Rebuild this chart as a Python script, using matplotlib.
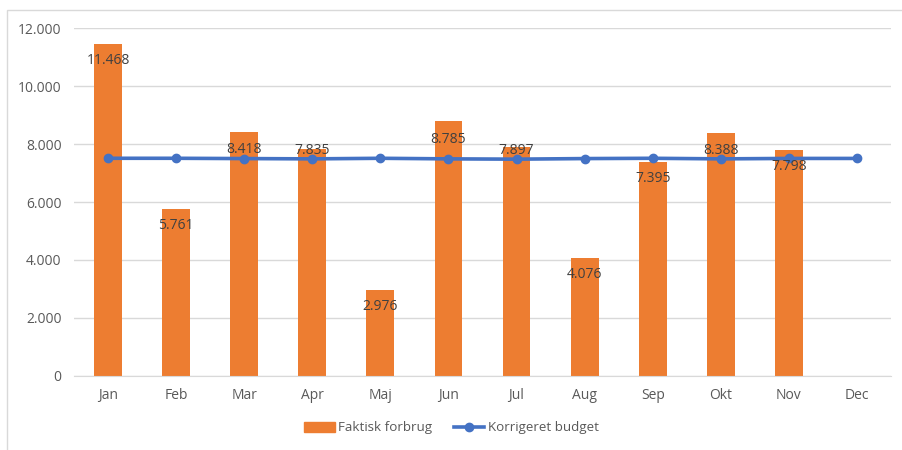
import matplotlib
matplotlib.use("Agg")
import matplotlib.pyplot as plt
from matplotlib.patches import Rectangle
from matplotlib.lines import Line2D
from matplotlib.patches import Patch

months = ["Jan", "Feb", "Mar", "Apr", "Maj", "Jun", "Jul", "Aug", "Sep", "Okt", "Nov", "Dec"]
faktisk = [11468, 5761, 8418, 7835, 2976, 8785, 7897, 4076, 7395, 8388, 7798, None]
budget = [7510, 7510, 7500, 7490, 7510, 7490, 7480, 7500, 7510, 7490, 7505, 7505]
bar_labels = ["11.468", "5.761", "8.418", "7.835", "2.976", "8.785", "7.897", "4.076", "7.395", "8.388", "7.798", ""]
y_ticks = [0, 2000, 4000, 6000, 8000, 10000, 12000]
y_tick_labels = ["0", "2.000", "4.000", "6.000", "8.000", "10.000", "12.000"]
label_offsets = [17, 17, 18, 2, 17, 18, 3, 17, 17, 18, 17, 17]  # px below bar top

plt.rcParams['font.family'] = ['Open Sans', 'DejaVu Sans']
ORANGE = "#ED7D31"
BLUE = "#4472C4"
TXT = "#595959"
GRID = "#D9D9D9"

fig = plt.figure(figsize=(9.03, 4.5), dpi=100)
fig.patch.set_facecolor("white")
fig.patches.append(Rectangle((7 / 903, -0.2), 2, 1.2 - 10 / 450, transform=fig.transFigure,
                             fill=False, edgecolor=GRID, linewidth=1.0))

ax = fig.add_axes([74 / 903, 1 - 375.7 / 450, (891 - 74) / 903, (375.7 - 28.3) / 450])
x = list(range(len(months)))
vals = [v if v is not None else 0 for v in faktisk]
ax.bar(x, vals, width=0.41, color=ORANGE, zorder=2)
ax.plot(x, budget, color=BLUE, linewidth=2.6, marker="o", markersize=6, zorder=3)

for i, (v, lab) in enumerate(zip(faktisk, bar_labels)):
    if v is None:
        continue
    ax.annotate(lab, (i, v), xytext=(0, -label_offsets[i]), textcoords="offset pixels",
                ha="center", va="center", fontsize=10, color="#404040", zorder=4)

ax.set_xlim(-0.5, 11.5)
ax.set_ylim(0, 12000)
ax.set_yticks(y_ticks)
ax.set_yticklabels(y_tick_labels)
ax.set_xticks(x)
ax.set_xticklabels(months)
ax.tick_params(axis="both", length=0, colors=TXT, labelsize=10)
ax.tick_params(axis="y", pad=9)
ax.tick_params(axis="x", pad=9)
ax.grid(axis="y", color=GRID, linewidth=1.0, zorder=0)
ax.set_axisbelow(True)
for s in ["top", "right", "left"]:
    ax.spines[s].set_visible(False)
ax.spines["bottom"].set_color(GRID)

handles = [Patch(facecolor=ORANGE, edgecolor=ORANGE),
           Line2D([0], [0], color=BLUE, linewidth=2.6, marker="o", markersize=6)]
fig.legend(handles, ["Faktisk forbrug", "Korrigeret budget"], loc="center",
           bbox_to_anchor=(0.5, 1 - 428 / 450), ncol=2, frameon=False, fontsize=9.6,
           labelcolor=TXT, handlelength=2.3, handletextpad=0.25, columnspacing=1.6)

fig.savefig("out.png", dpi=100, facecolor="white")
